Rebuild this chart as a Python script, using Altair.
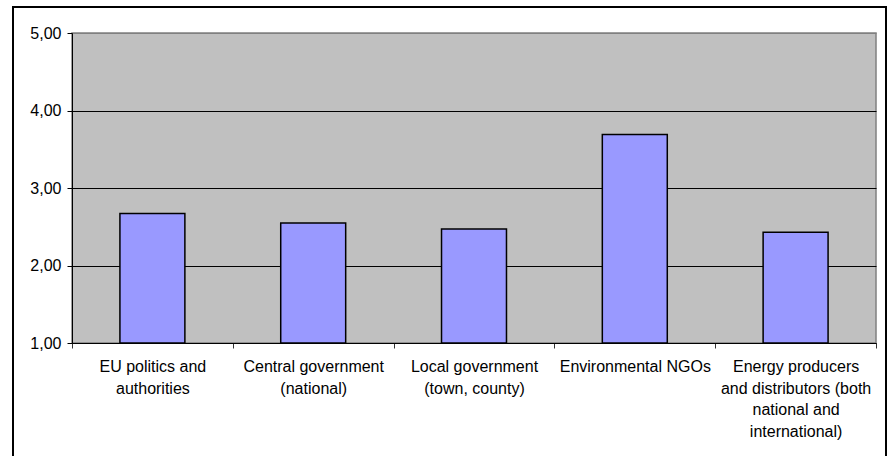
import altair as alt
import pandas as pd

# Mean rating per actor group (scale 1-5)
categories = [
    "EU politics and\nauthorities",
    "Central government\n(national)",
    "Local government\n(town, county)",
    "Environmental NGOs",
    "Energy producers\nand distributors (both\nnational and\ninternational)",
]
scores = [2.67, 2.55, 2.47, 3.69, 2.43]
y_ticks = [1, 2, 3, 4, 5]
y_floor = 1

df = pd.DataFrame({"group": categories, "score": scores})

FONT = "Liberation Sans"

bars = alt.Chart(df).mark_bar(
    width=alt.RelativeBandSize(0.404),
    fill="#9999FF",
    stroke="black",
    strokeWidth=1.5,
).encode(
    x=alt.X(
        "group:N",
        sort=None,
        title=None,
        scale=alt.Scale(paddingInner=0, paddingOuter=0),
        axis=alt.Axis(
            labelAngle=0,
            labelExpr="isValid(datum.value) ? split(datum.value, '\\n') : ''",
            labelFont=FONT,
            labelFontSize=16,
            labelColor="black",
            labelLineHeight=21.5,
            labelPadding=10.5,
            labelLimit=200,
            tickBand="extent",
            tickSize=5,
            tickColor="#333333",
            domainColor="black",
            domainWidth=1,
            grid=False,
        ),
    ),
    y=alt.Y(
        "score:Q",
        title=None,
        scale=alt.Scale(domain=[1, 5], nice=False, zero=False),
        axis=alt.Axis(
            values=y_ticks,
            labelExpr="replace(format(datum.value, '.2f'), '.', ',')",
            labelFont=FONT,
            labelFontSize=16,
            labelColor="black",
            labelPadding=6,
            tickSize=5,
            tickColor="black",
            domainColor="black",
            domainWidth=1,
            grid=True,
            gridColor=alt.condition(
                "datum.value === 5", alt.value("#808080"), alt.value("black")
            ),
            gridWidth=1,
        ),
    ),
    y2=alt.datum(y_floor),
)

# Frame around the whole figure
frame = alt.Chart(pd.DataFrame({"k": [0]})).mark_rect(
    fill=None, stroke="black", strokeWidth=2
).encode(
    x=alt.value(-59),
    x2=alt.value(814),
    y=alt.value(-26),
    y2=alt.value(440),
)

chart = alt.layer(bars, frame).properties(
    width=804,
    height=310,
    padding={"left": 72, "top": 33, "right": 15, "bottom": 113},
    autosize=alt.AutoSizeParams(type="none"),
    background="white",
).configure_view(
    fill="#C0C0C0",
    stroke="#808080",
    strokeWidth=1.5,
)

chart.save("out.html", embed_options={"renderer": "svg", "actions": False})
